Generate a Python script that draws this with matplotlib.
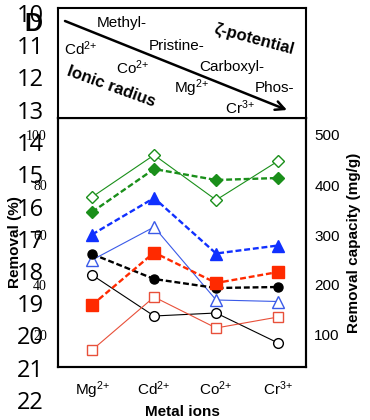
import matplotlib
matplotlib.use("Agg")
import matplotlib.pyplot as plt

plt.rcParams['font.family'] = ['Liberation Sans', 'DejaVu Sans']
plt.rcParams['mathtext.fontset'] = 'custom'
plt.rcParams['mathtext.rm'] = 'Liberation Sans'
plt.rcParams['mathtext.it'] = 'Liberation Sans:italic'
plt.rcParams['mathtext.bf'] = 'Liberation Sans:bold'

# ---------------- data ----------------
metals = [r'$\mathrm{Mg}^{2{+}}$', r'$\mathrm{Cd}^{2{+}}$', r'$\mathrm{Co}^{2{+}}$', r'$\mathrm{Cr}^{3{+}}$']

# Removal (%)  -- solid lines, open markers
pct_green = [75.2, 92.0, 74.0, 89.6]
pct_blue = [50.0, 63.2, 34.0, 33.4]
pct_black = [44.0, 27.6, 28.8, 16.8]
pct_red = [14.0, 35.2, 22.8, 27.2]

# Removal capacity (mg/g) -- dashed lines, filled markers
cap_green = [346, 432, 410, 414]
cap_blue = [301, 374, 263, 279]
cap_black = [262, 212, 194, 196]
cap_red = [160, 265, 204, 226]

left_ticks = [20, 40, 60, 80, 100]
right_ticks = [100, 200, 300, 400, 500]
big_ticks = list(range(10, 23))

# top-panel annotation labels
materials = ['Methyl-', 'Pristine-', 'Carboxyl-', 'Phos-']
ions_top = [r'$\mathrm{Cd}^{2{+}}$', r'$\mathrm{Co}^{2{+}}$', r'$\mathrm{Mg}^{2{+}}$', r'$\mathrm{Cr}^{3{+}}$']

# ---------------- figure ----------------
W, H = 370, 420
fig = plt.figure(figsize=(W / 100, H / 100), dpi=100)

def rect(x0, y0, x1, y1):
    return [x0 / W, 1 - y1 / H, (x1 - x0) / W, (y1 - y0) / H]

# big stray number column
axn = fig.add_axes(rect(45, 0, 46, 420))
axn.set_ylim(10 + 407 / 32.25, 10 - 13 / 32.25)
axn.set_yticks(big_ticks)
axn.set_yticklabels([str(t) for t in big_ticks], fontsize=17, family='Open Sans')
axn.tick_params(axis='y', length=0, pad=1)
axn.set_xticks([])
for s in axn.spines.values():
    s.set_visible(False)
axn.patch.set_alpha(0)

# main axes
ax = fig.add_axes(rect(58, 118, 306, 367))
x = range(len(metals))
lo, hi = (385 - 367) / 2.5, (385 - 118) / 2.5
ax.set_ylim(lo, hi)
ax.set_xlim(-0.55, 3.45)
ax2 = ax.twinx()
ax2.set_ylim(lo * 5, hi * 5)

green = '#1a8f1a'
blue = '#1030ff'
red = '#ff2a00'
red_open = '#e8503a'
blue_open = '#3a5ae8'

dash = (0, (2.5, 1.2))
# open (solid) series on left axis
ax.plot(x, pct_green, '-', color=green, lw=0.8, marker='D', ms=6.5, mfc='white', mec=green, mew=1, zorder=3)
ax.plot(x, pct_blue, '-', color=blue_open, lw=0.8, marker='^', ms=8.5, mfc='white', mec=blue_open, mew=1, zorder=3)
ax.plot(x, pct_black, '-', color='black', lw=0.8, marker='o', ms=7, mfc='white', mec='black', mew=1, zorder=3)
ax.plot(x, pct_red, '-', color=red_open, lw=0.8, marker='s', ms=7.5, mfc='white', mec=red_open, mew=1, zorder=3)
# filled (dashed) series on right axis
ax2.plot(x, cap_green, linestyle=dash, color=green, lw=1.7, marker='D', ms=6, mfc=green, mec=green)
ax2.plot(x, cap_blue, linestyle=dash, color=blue, lw=1.7, marker='^', ms=9, mfc=blue, mec=blue)
ax2.plot(x, cap_black, linestyle=dash, color='black', lw=1.7, marker='o', ms=6.5, mfc='black', mec='black')
ax2.plot(x, cap_red, linestyle=dash, color=red, lw=1.7, marker='s', ms=8, mfc=red, mec=red)

ax.set_xticks(list(x))
ax.set_xticklabels(metals, fontsize=11)
ax.tick_params(axis='x', length=0, pad=9)
ax.set_yticks(left_ticks)
ax.set_yticklabels([str(t) for t in left_ticks], fontsize=10, family='Liberation Serif')
ax.tick_params(axis='y', length=0, pad=8)
ax2.set_yticks(right_ticks)
ax2.set_yticklabels([str(t) for t in right_ticks], fontsize=11)
ax2.tick_params(axis='y', length=0, pad=6)
for a in (ax, ax2):
    for s in a.spines.values():
        s.set_linewidth(1.5)

ax.set_xlabel('Metal ions', fontsize=11, fontweight='bold')
ax.xaxis.set_label_coords(0.5, -(405 - 367) / 249)
ax.set_ylabel('Removal (%)', fontsize=11, fontweight='bold')
ax.yaxis.set_label_coords((22 - 58) / 248, 0.5)
ax2.set_ylabel('Removal capacity (mg/g)', fontsize=11, fontweight='bold')
ax2.yaxis.set_label_coords((347 - 58) / 248, 0.5)

# top panel (pixel-like coordinates)
axt = fig.add_axes(rect(58, 8, 306, 118))
axt.set_xlim(58, 306)
axt.set_ylim(118, 8)
axt.set_xticks([])
axt.set_yticks([])
for s in axt.spines.values():
    s.set_linewidth(1.5)
axt.annotate('', xy=(287, 110), xytext=(65, 21),
             arrowprops=dict(arrowstyle='->', lw=1.8, color='black', mutation_scale=16,
                             shrinkA=0, shrinkB=0))
mat_pos = [(122, 23), (177, 46), (232, 67), (274, 88)]
for t, (px, py) in zip(materials, mat_pos):
    axt.text(px, py, t, fontsize=11, ha='center', va='center')
ion_pos = [(81, 49), (133, 68), (191, 88), (240, 108)]
for t, (px, py) in zip(ions_top, ion_pos):
    axt.text(px, py, t, fontsize=11, ha='center', va='center')
axt.text(111, 87, 'Ionic radius', fontsize=12, fontweight='bold', rotation=-20,
         ha='center', va='center', rotation_mode='anchor')
axt.text(254, 39, 'ζ-potential', fontsize=12, fontweight='bold', rotation=-15,
         ha='center', va='center', rotation_mode='anchor')

fig.text(33 / W, 1 - 24 / H, 'D', fontsize=18, fontweight='bold', ha='center', va='center')

fig.savefig('out.png', dpi=100)
